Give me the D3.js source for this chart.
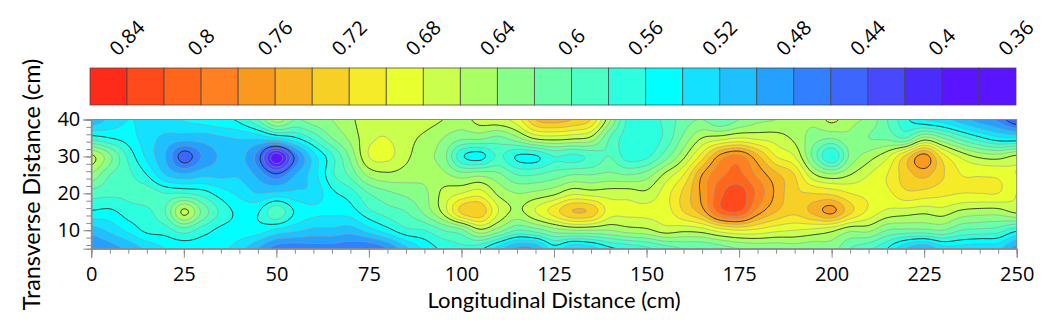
<!DOCTYPE html>
<html>
<head>
<meta charset="utf-8">
<script src="https://cdn.jsdelivr.net/npm/d3@7"></script>
<style>
  html, body { margin:0; padding:0; background:#fff; }
  svg { display:block; }
</style>
</head>
<body>
<svg width="1061" height="329"></svg>
<script>
// positions of the grid rows and columns, in cm
var xGrid = d3.range(0,251,5);
var yGrid = [40,35,30,25,20,15,10,5];

// values, one list per row, left to right
var row40 = [.505,.525,.54,.535,.535,.542,.548,.555,.565,.6,.65,.62,.63,.64,.655,.675,.675,.675,.67,.66,.65,.67,.675,.69,.74,.75,.74,.72,.645,.575,.57,.585,.61,.62,.6,.62,.635,.64,.65,.645,.665,.645,.635,.6,.565,.54,.53,.51,.49,.475,.44];
var row35 = [.57,.56,.55,.53,.515,.51,.51,.517,.522,.525,.54,.557,.585,.62,.645,.675,.68,.668,.655,.64,.625,.625,.615,.635,.665,.67,.665,.655,.6,.57,.565,.585,.625,.66,.67,.68,.675,.67,.655,.63,.622,.635,.62,.615,.6,.645,.62,.59,.565,.545,.54];
var row30 = [.665,.625,.575,.535,.5,.45,.482,.503,.507,.47,.385,.465,.53,.575,.625,.68,.685,.665,.645,.63,.565,.552,.583,.558,.557,.58,.575,.585,.6,.57,.575,.61,.655,.71,.768,.785,.745,.7,.68,.615,.56,.625,.65,.675,.725,.77,.71,.675,.655,.65,.665];
var row25 = [.635,.6,.585,.56,.52,.505,.515,.515,.517,.495,.465,.5,.53,.575,.605,.645,.655,.65,.645,.645,.63,.635,.625,.6,.6,.61,.62,.62,.625,.62,.63,.665,.7,.76,.795,.805,.775,.745,.72,.665,.645,.66,.68,.7,.73,.745,.722,.7,.698,.695,.68];
var row20 = [.59,.585,.585,.59,.58,.58,.57,.55,.535,.52,.525,.525,.525,.555,.57,.6,.615,.625,.635,.665,.68,.69,.655,.64,.645,.655,.675,.67,.67,.67,.665,.69,.725,.765,.815,.83,.795,.755,.725,.72,.715,.7,.695,.695,.715,.712,.705,.7,.7,.7,.68];
var row15 = [.557,.555,.57,.575,.6,.665,.615,.575,.555,.558,.595,.558,.545,.545,.55,.575,.59,.6,.625,.665,.725,.735,.68,.655,.68,.71,.74,.735,.69,.685,.685,.69,.72,.75,.81,.82,.77,.74,.725,.745,.765,.725,.695,.675,.67,.665,.67,.655,.65,.65,.665];
var row10 = [.51,.525,.545,.565,.57,.59,.57,.555,.552,.55,.535,.525,.515,.515,.51,.53,.552,.575,.58,.6,.615,.655,.63,.6,.61,.63,.64,.64,.64,.65,.655,.67,.665,.67,.69,.7,.695,.685,.68,.675,.665,.645,.645,.62,.615,.615,.62,.6,.595,.59,.565];
var row5  = [.478,.49,.505,.525,.54,.545,.547,.545,.53,.5,.47,.465,.47,.47,.465,.46,.48,.515,.545,.565,.575,.565,.53,.495,.5,.55,.52,.53,.555,.565,.575,.59,.6,.6,.61,.62,.625,.625,.63,.625,.63,.6,.585,.56,.52,.5,.53,.53,.525,.525,.49];
var rows = [row40,row35,row30,row25,row20,row15,row10,row5];

// colour bands from the top of the scale (0.86) to the bottom (0.36)
var bandColors = ["#ff2b1a","#ff4a1c","#ff661c","#ff8020","#f99a1f","#f8b224","#f6d024","#f6eb28","#e8ff30","#cbff4d","#a8ff66","#88ff88","#68ffa8","#4cffc4","#2cffdf","#00ffff","#14e0ff","#1ec0ff","#24a0ff","#3080ff","#3c66ff","#4848ff","#4a2cff","#5a14ff","#5a14ff"];
var levels = d3.range(25).map(function(i){ return +(0.36+i*0.02).toFixed(2); });
var scaleLabels = ["0.84","0.8","0.76","0.72","0.68","0.64","0.6","0.56","0.52","0.48","0.44","0.4","0.36"];
var xTicks = d3.range(0,251,25);
var xMinor = d3.range(0,251,5);
var yTicks = [10,20,30,40];
var yMinor = d3.range(6,41,2);

var svg = d3.select("svg");
var plot = {left:91.3,right:1016.7,top:119.5,bottom:248.7};
var barBox = {left:90,right:1016,top:68,bottom:105};

var xScale = d3.scaleLinear().domain([0,250]).range([plot.left,plot.right]);
var yScale = d3.scaleLinear().domain([5,40]).range([plot.bottom,plot.top]);

// resample the read values onto a fine grid so the contour lines come out smooth
function cr(a,b,c,d,t)
{
  return 0.5*(2*b+(c-a)*t+(2*a-5*b+4*c-d)*t*t+(3*b-a-3*c+d)*t*t*t);
}
function sample(x,y)
{
  var fx = Math.max(0,Math.min(xGrid.length-1.001,x/5));
  var fy = Math.max(0,Math.min(yGrid.length-1.001,(40-y)/5));
  var ix = Math.floor(fx), iy = Math.floor(fy);
  var out = [];
  for(var j=-1;j<=2;j++)
  {
    var r = rows[Math.max(0,Math.min(rows.length-1,iy+j))];
    out.push(cr(r[Math.max(0,ix-1)],r[ix],r[ix+1],r[Math.min(r.length-1,ix+2)],fx-ix));
  }
  return cr(out[0],out[1],out[2],out[3],fy-iy);
}

var step = 0.5, pad = 2;
var nx = Math.round(250/step)+1+2*pad;
var ny = Math.round(35/step)+1+2*pad;
var fine = [];
for(var j=0;j<ny;j++)
{
  for(var i=0;i<nx;i++)
  {
    fine.push(sample((i-pad)*step,40-(j-pad)*step));
  }
}

var contours = d3.contours().size([nx,ny]).thresholds(levels)(fine);
var path = d3.geoPath(d3.geoTransform({
  point:function(gx,gy)
  {
    this.stream.point(xScale((gx-0.5-pad)*step),yScale(40-(gy-0.5-pad)*step));
  }
}));

svg.append("clipPath").attr("id","plotClip")
  .append("rect")
  .attr("x",plot.left).attr("y",plot.top)
  .attr("width",plot.right-plot.left).attr("height",plot.bottom-plot.top);

var land = svg.append("g").attr("clip-path","url(#plotClip)");

land.selectAll("path.band")
  .data(contours)
  .enter()
  .append("path")
  .classed("band",true)
  .attr("d",path)
  .attr("fill",function(d,i){ return bandColors[bandColors.length-1-i]; });

function isMajor(v)
{
  return Math.abs(((v-0.36)/0.1)-Math.round((v-0.36)/0.1))<0.001;
}

land.selectAll("path.line")
  .data(contours.filter(function(d){ return d.value>0.36; }))
  .enter()
  .append("path")
  .classed("line",true)
  .attr("d",path)
  .attr("fill","none")
  .attr("stroke",function(d){ return isMajor(d.value) ? "#222" : "#999"; })
  .attr("stroke-opacity",function(d){ return isMajor(d.value) ? 0.85 : 0.55; })
  .attr("stroke-width",1);

// frame and axes
svg.append("rect")
  .attr("x",plot.left).attr("y",plot.top)
  .attr("width",plot.right-plot.left).attr("height",plot.bottom-plot.top)
  .attr("fill","none").attr("stroke","#8a8a8a").attr("stroke-width",1);

var tickFont = "'Open Sans', sans-serif";

var xMinorAxis = svg.append("g")
  .attr("transform","translate(0,"+plot.bottom+")")
  .call(d3.axisBottom(xScale).tickValues(xMinor).tickSize(5).tickFormat(""));
var xAxis = svg.append("g")
  .attr("transform","translate(0,"+plot.bottom+")")
  .call(d3.axisBottom(xScale).tickValues(xTicks).tickSize(9).tickPadding(9).tickFormat(d3.format("d")));
var yMinorAxis = svg.append("g")
  .attr("transform","translate("+plot.left+",0)")
  .call(d3.axisLeft(yScale).tickValues(yMinor).tickSize(5).tickFormat(""));
var yAxis = svg.append("g")
  .attr("transform","translate("+plot.left+",0)")
  .call(d3.axisLeft(yScale).tickValues(yTicks).tickSize(8).tickPadding(3).tickFormat(d3.format("d")));

[xMinorAxis,xAxis,yMinorAxis,yAxis].forEach(function(a){
  a.select(".domain").attr("stroke","#8a8a8a");
  a.selectAll(".tick line").attr("stroke","#8a8a8a");
  a.selectAll("text")
    .attr("font-family",tickFont)
    .attr("font-size","20px")
    .attr("fill","#000");
});

// colour scale bar
var barScale = d3.scaleBand().domain(d3.range(25)).range([barBox.left,barBox.right]).padding(0);
svg.append("g").selectAll("rect")
  .data(bandColors)
  .enter()
  .append("rect")
  .attr("x",function(d,i){ return barScale(i); })
  .attr("y",barBox.top)
  .attr("width",barScale.bandwidth())
  .attr("height",barBox.bottom-barBox.top)
  .attr("fill",function(d){ return d; })
  .attr("stroke","#444")
  .attr("stroke-opacity",0.75)
  .attr("stroke-width",1);

// rotated labels are centred on their boundary and sit level at the bottom
svg.append("g").selectAll("text")
  .data(scaleLabels)
  .enter()
  .append("text")
  .attr("font-family",tickFont)
  .attr("font-size","20px")
  .attr("fill","#000")
  .text(function(d){ return d; })
  .attr("transform",function(d,i){
    var bx = barScale(0)+barScale.bandwidth()*(1+2*i)+1;
    var half = this.getComputedTextLength()*Math.SQRT1_2/2;
    return "translate("+(bx-half+4)+",57) rotate(-45)";
  });

// axis titles
svg.append("text")
  .attr("x",554).attr("y",308)
  .attr("text-anchor","middle")
  .attr("font-family","Lato, sans-serif")
  .attr("font-size","22px")
  .attr("fill","#000")
  .text("Longitudinal Distance (cm)");

svg.append("text")
  .attr("transform","translate(40,184.5) rotate(-90)")
  .attr("text-anchor","middle")
  .attr("font-family","Lato, sans-serif")
  .attr("font-size","23.3px")
  .attr("fill","#000")
  .text("Transverse Distance (cm)");
</script>
</body>
</html>
